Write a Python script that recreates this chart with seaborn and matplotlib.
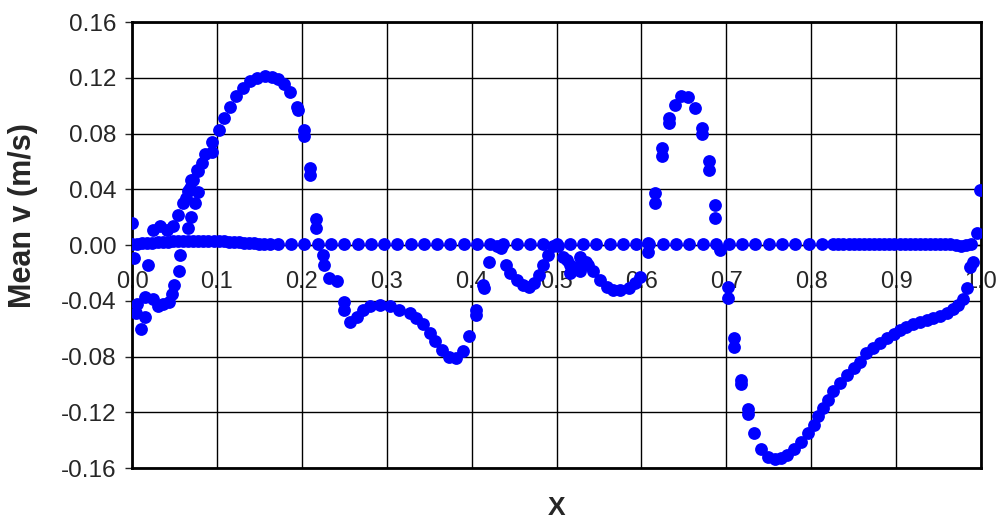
import numpy as np
import matplotlib
matplotlib.use("Agg")
import matplotlib.pyplot as plt
from matplotlib.ticker import FormatStrFormatter
import seaborn as sns

# near-zero series (flat line of points)
ref_x = [0.000, 0.006, 0.012, 0.018, 0.024, 0.030, 0.036, 0.042, 0.048, 0.054,
         0.060, 0.066, 0.072, 0.078, 0.084, 0.090, 0.096, 0.102, 0.108, 0.114,
         0.120, 0.126, 0.132, 0.138, 0.144, 0.150, 0.156, 0.162,
         0.172, 0.1875, 0.203, 0.219, 0.234, 0.250, 0.266, 0.281, 0.297, 0.3125,
         0.328, 0.344, 0.359, 0.375, 0.391, 0.406, 0.422, 0.4375, 0.453, 0.469,
         0.484, 0.500, 0.516, 0.531, 0.547, 0.5625, 0.578, 0.594, 0.609, 0.625,
         0.641, 0.656, 0.672, 0.6875, 0.703, 0.719, 0.734, 0.750, 0.766, 0.781,
         0.797, 0.8125, 0.826, 0.832, 0.838, 0.844, 0.850, 0.856, 0.862, 0.868,
         0.874, 0.880, 0.886, 0.892, 0.898, 0.904, 0.910, 0.916, 0.922, 0.928,
         0.934, 0.940, 0.946, 0.952, 0.958, 0.964, 0.970, 0.976, 0.982, 0.988]
ref_v = [0.001, 0.001, 0.0012, 0.0015, 0.0018, 0.002, 0.0022, 0.0024, 0.0026, 0.0028,
         0.003, 0.003, 0.003, 0.003, 0.003, 0.003, 0.003, 0.0028, 0.0026, 0.0024,
         0.0022, 0.002, 0.0018, 0.0016, 0.0012, 0.0008, 0.0006, 0.0006,
         0.0008, 0.001, 0.001, 0.001, 0.001, 0.001, 0.001, 0.001, 0.001, 0.001,
         0.001, 0.001, 0.001, 0.001, 0.001, 0.001, 0.001, 0.001, 0.001, 0.001,
         0.001, 0.001, 0.001, 0.001, 0.001, 0.001, 0.001, 0.001, 0.001, 0.001,
         0.001, 0.001, 0.001, 0.001, 0.001, 0.001, 0.001, 0.001, 0.001, 0.001,
         0.001, 0.001, 0.001, 0.001, 0.001, 0.001, 0.001, 0.001, 0.001, 0.001,
         0.001, 0.001, 0.001, 0.001, 0.001, 0.001, 0.001, 0.001, 0.001, 0.001,
         0.001, 0.001, 0.001, 0.001, 0.001, 0.0008, 0.0, -0.001, 0.0, 0.001]

# main mean-v trace
main_x = [0.000, 0.002, 0.019, 0.006, 0.005, 0.011, 0.015, 0.015, 0.025, 0.031,
          0.037, 0.043, 0.047, 0.049, 0.055, 0.057, 0.025, 0.033, 0.041, 0.048,
          0.054, 0.060, 0.066, 0.070, 0.076, 0.066, 0.070, 0.074, 0.078, 0.064,
          0.068, 0.072, 0.078, 0.082, 0.086, 0.094, 0.094, 0.102, 0.108, 0.115,
          0.123, 0.131, 0.139, 0.147, 0.157, 0.165, 0.172, 0.179, 0.186, 0.194,
          0.195, 0.202, 0.203, 0.210, 0.210, 0.217, 0.217, 0.225, 0.226, 0.232,
          0.242, 0.250, 0.250, 0.257, 0.265, 0.272, 0.280, 0.292, 0.304, 0.314,
          0.327, 0.335, 0.343, 0.351, 0.357, 0.365, 0.373, 0.382, 0.390, 0.397,
          0.405, 0.405, 0.413, 0.414, 0.420, 0.430, 0.435, 0.441, 0.445, 0.453,
          0.461, 0.467, 0.473, 0.479, 0.484, 0.490, 0.496, 0.502, 0.508, 0.512,
          0.516, 0.516, 0.524, 0.528, 0.528, 0.532, 0.535, 0.537, 0.543, 0.551,
          0.559, 0.567, 0.575, 0.585, 0.592, 0.598, 0.608, 0.608, 0.616, 0.616,
          0.624, 0.624, 0.632, 0.632, 0.640, 0.647, 0.655, 0.663, 0.671, 0.671,
          0.679, 0.679, 0.687, 0.687, 0.693, 0.702, 0.702, 0.709, 0.709, 0.717,
          0.717, 0.725, 0.725, 0.733, 0.741, 0.749, 0.757, 0.764, 0.772, 0.780,
          0.788, 0.796, 0.803, 0.808, 0.814, 0.820, 0.826, 0.834, 0.842, 0.850,
          0.857, 0.865, 0.873, 0.881, 0.889, 0.897, 0.905, 0.912, 0.920, 0.928,
          0.936, 0.944, 0.952, 0.960, 0.967, 0.973, 0.979, 0.983, 0.987, 0.991,
          0.995, 0.999]
main_v = [0.0156, -0.009, -0.014, -0.042, -0.049, -0.060, -0.052, -0.037, -0.039, -0.044,
          -0.042, -0.041, -0.035, -0.029, -0.019, -0.007, 0.011, 0.014, 0.011, 0.014,
          0.0215, 0.030, 0.039, 0.047, 0.054, 0.012, 0.020, 0.030, 0.038, 0.0335,
          0.041, 0.047, 0.053, 0.059, 0.065, 0.067, 0.074, 0.0825, 0.091, 0.099,
          0.107, 0.113, 0.118, 0.120, 0.121, 0.1208, 0.119, 0.1155, 0.110, 0.099,
          0.097, 0.0825, 0.078, 0.055, 0.050, 0.019, 0.012, -0.007, -0.0143, -0.024,
          -0.026, -0.041, -0.0466, -0.055, -0.0514, -0.0466, -0.044, -0.043, -0.044, -0.0466,
          -0.049, -0.0526, -0.057, -0.063, -0.069, -0.075, -0.0806, -0.0813, -0.0758, -0.0653,
          -0.0466, -0.050, -0.0287, -0.031, -0.012, -0.001, -0.0024, -0.0143, -0.020, -0.025,
          -0.0287, -0.030, -0.0275, -0.0215, -0.0143, -0.007, -0.001, -0.001, -0.0084, -0.011,
          -0.0143, -0.020, -0.0156, -0.019, -0.0084, -0.013, -0.012, -0.0143, -0.019, -0.025,
          -0.030, -0.032, -0.032, -0.031, -0.0275, -0.0227, 0.0012, -0.0048, 0.030, 0.037,
          0.0639, 0.0694, 0.0873, 0.091, 0.1004, 0.107, 0.1064, 0.098, 0.0837, 0.080,
          0.060, 0.054, 0.0287, 0.0196, -0.0036, -0.030, -0.038, -0.067, -0.0734, -0.097,
          -0.100, -0.118, -0.1215, -0.135, -0.146, -0.152, -0.1538, -0.153, -0.1507, -0.1466,
          -0.141, -0.135, -0.129, -0.123, -0.117, -0.111, -0.105, -0.099, -0.093, -0.0885,
          -0.0837, -0.0777, -0.0741, -0.0705, -0.067, -0.0639, -0.061, -0.059, -0.057, -0.0552,
          -0.0538, -0.0524, -0.0507, -0.0486, -0.0462, -0.043, -0.039, -0.031, -0.0156, -0.012,
          0.0084, 0.0395]

x_ticks = [0.0, 0.1, 0.2, 0.3, 0.4, 0.5, 0.6, 0.7, 0.8, 0.9, 1.0]
y_ticks = [-0.16, -0.12, -0.08, -0.04, 0.0, 0.04, 0.08, 0.12, 0.16]

sns.set_style("white")
plt.rcParams['font.family'] = ['Liberation Sans', 'DejaVu Sans']

fig = plt.figure(figsize=(9.98, 5.18), dpi=100)
ax = fig.add_axes([0.1323, 0.0965, 0.8507, 0.861])

sns.scatterplot(x=ref_x, y=ref_v, color='#0000FF', s=85, linewidth=0, ax=ax, zorder=3)
sns.scatterplot(x=main_x, y=main_v, color='#0000FF', s=85, linewidth=0, ax=ax, zorder=3)

ax.set_xlim(0, 1.0)
ax.set_ylim(-0.16, 0.16)
ax.set_xticks(x_ticks)
ax.set_yticks(y_ticks)
ax.yaxis.set_major_formatter(FormatStrFormatter('%.2f'))
ax.grid(True, color='black', linewidth=1.0)
ax.set_axisbelow(True)
for sp in ax.spines.values():
    sp.set_visible(True)
    sp.set_color('black')
    sp.set_linewidth(2.0)

ax.tick_params(axis='x', bottom=False, labelbottom=False)
ax.tick_params(axis='y', left=True, length=5, width=1, pad=6, labelsize=17.5)

# x axis crosses at v = 0, labels hang below it
sec = ax.secondary_xaxis(0.5)
sec.set_alignment('bottom')
sec.set_xticks(x_ticks)
sec.xaxis.set_major_formatter(FormatStrFormatter('%.1f'))
sec.tick_params(axis='x', length=0, pad=19, labelsize=17)
sec.spines['bottom'].set_linewidth(1.0)

ax.set_ylabel('Mean v (m/s)', fontsize=22, fontweight='bold')
ax.yaxis.set_label_coords(-0.111, 0.567)
ax.set_xlabel('X', fontsize=19, fontweight='bold', labelpad=20)

fig.savefig('out.png', dpi=100)
